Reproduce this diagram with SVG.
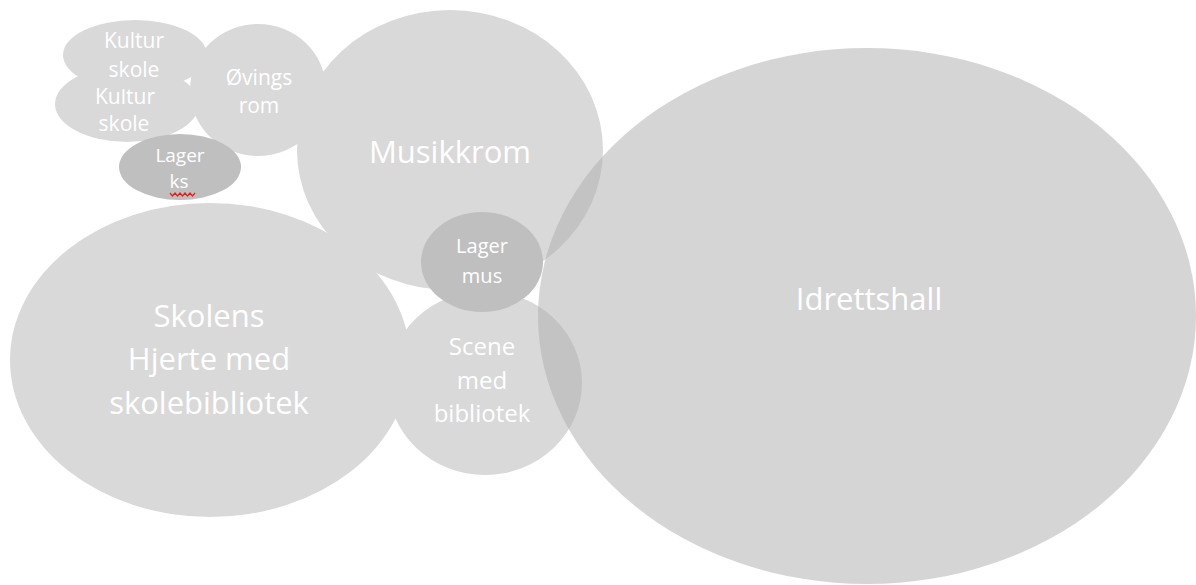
<svg xmlns="http://www.w3.org/2000/svg" width="1196" height="585" viewBox="0 0 1196 585">
<style>
.b{fill:#d9d9d9}
.d{fill:#bfbfbf}
text{font-family:"Open Sans","Liberation Sans",sans-serif;fill:#ffffff;text-anchor:middle}
.s31{font-size:31px}
.s24{font-size:24px}
.s21{font-size:21px}
.s20{font-size:20px}
.s19{font-size:19px}
</style>
<rect width="1196" height="585" fill="#ffffff"/>
<g id="skolens">
<ellipse class="b" cx="210" cy="360" rx="200" ry="157"/>
<text class="s31"><tspan x="209" y="327">Skolens</tspan><tspan x="209" y="370">Hjerte med</tspan><tspan x="209" y="414">skolebibliotek</tspan></text>
</g>
<g id="scene">
<ellipse class="b" cx="485" cy="383" rx="97" ry="92"/>
<text class="s24"><tspan x="482" y="355">Scene</tspan><tspan x="482" y="389">med</tspan><tspan x="482" y="422">bibliotek</tspan></text>
</g>
<g id="musikkrom">
<ellipse class="b" cx="450" cy="150" rx="153" ry="140"/>
<text class="s31" x="450" y="163">Musikkrom</text>
</g>
<g id="ovingsrom">
<ellipse class="b" cx="258" cy="90" rx="68" ry="66"/>
<text class="s21"><tspan x="259" y="85">Øvings</tspan><tspan x="259" y="113">rom</tspan></text>
</g>
<g id="kulturskole2">
<ellipse class="b" cx="127" cy="104" rx="72" ry="38"/>
<text class="s21"><tspan x="125" y="104">Kultur</tspan><tspan x="124" y="131">skole</tspan></text>
</g>
<g id="kulturskole1">
<ellipse class="b" cx="135" cy="55" rx="72" ry="35"/>
<text class="s21"><tspan x="134" y="48">Kultur</tspan><tspan x="134" y="77">skole</tspan></text>
</g>
<g id="lagerks">
<ellipse class="d" cx="180" cy="167" rx="61" ry="33"/>
<text class="s19"><tspan x="180" y="162">Lager</tspan><tspan x="179" y="188">ks</tspan></text>
<polyline points="170,193 172.5,196 175,193 177.5,196 180,193 182.5,196 185,193 187.5,196 190,193 192.5,196 195,193" fill="none" stroke="#e02020" stroke-width="1.2"/>
</g>
<g id="lagermus">
<ellipse class="d" cx="482" cy="262" rx="61" ry="50"/>
<text class="s20"><tspan x="482" y="253">Lager</tspan><tspan x="482" y="283">mus</tspan></text>
</g>
<g id="idrettshall">
<ellipse cx="867" cy="316" rx="329" ry="268" fill="#b1afb1" fill-opacity="0.53"/>
<text class="s31" x="869" y="310">Idrettshall</text>
</g>
<g id="connectors"/>
</svg>
